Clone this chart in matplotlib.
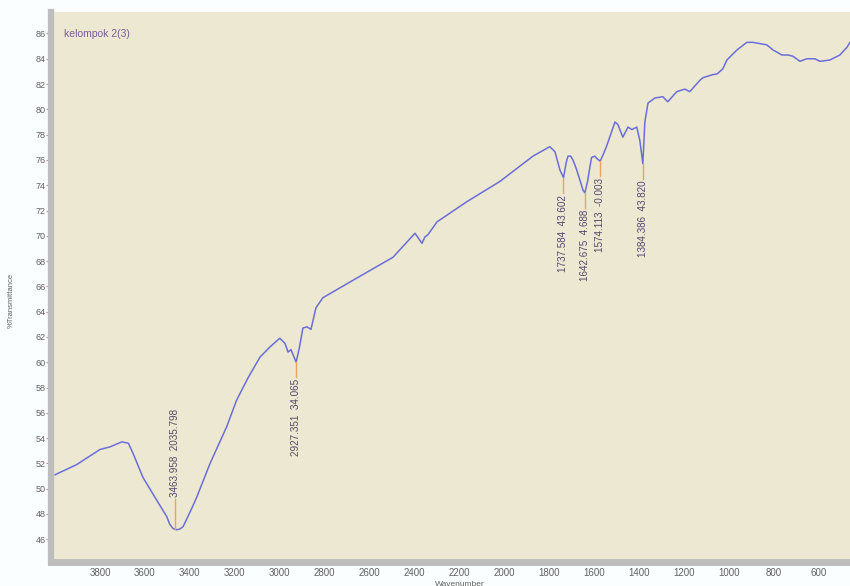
# Imports
import matplotlib
matplotlib.use("Agg")
import matplotlib.pyplot as plt
from matplotlib.ticker import MultipleLocator

# Spectrum data
wavenumber = [4000, 3904, 3800, 3756, 3703, 3674, 3653, 3609, 3548, 3503,
              3490, 3475, 3460, 3445, 3430, 3414, 3390, 3370, 3310, 3236,
              3192, 3140, 3088, 3044, 3000, 2977, 2963, 2950, 2927, 2912,
              2897, 2879, 2861, 2839, 2808, 2643, 2496, 2398, 2367, 2354,
              2340, 2300, 2167, 2020, 1873, 1798, 1775, 1753, 1737, 1725,
              1717, 1705, 1695, 1680, 1664, 1650, 1642, 1630, 1620, 1612,
              1597, 1588, 1574, 1561, 1545, 1508, 1495, 1473, 1450, 1433,
              1411, 1397, 1384, 1375, 1361, 1330, 1295, 1273, 1233, 1197,
              1175, 1130, 1117, 1072, 1054, 1028, 1010, 965, 921, 894,
              832, 805, 765, 738, 716, 685, 654, 618, 596, 552,
              507, 476, 462]
transmittance = [51.1, 51.9, 53.1, 53.3, 53.7, 53.6, 52.8, 50.9, 49.1, 47.8,
                 47.2, 46.85, 46.75, 46.8, 47.0, 47.6, 48.5, 49.3, 52.0, 54.9,
                 57.0, 58.8, 60.4, 61.2, 61.9, 61.5, 60.8, 61.0, 60.0, 61.2,
                 62.7, 62.8, 62.6, 64.3, 65.1, 66.8, 68.3, 70.2, 69.4, 69.9,
                 70.1, 71.1, 72.7, 74.3, 76.3, 77.05, 76.65, 75.2, 74.6, 75.8,
                 76.3, 76.3, 76.0, 75.3, 74.4, 73.6, 73.4, 74.3, 75.4, 76.2,
                 76.3, 76.1, 75.9, 76.4, 77.1, 79.0, 78.8, 77.8, 78.6, 78.4,
                 78.6, 77.5, 75.7, 79.0, 80.5, 80.9, 81.0, 80.6, 81.4, 81.6,
                 81.4, 82.3, 82.5, 82.75, 82.8, 83.2, 83.9, 84.7, 85.3, 85.3,
                 85.1, 84.7, 84.3, 84.3, 84.2, 83.8, 84.0, 84.0, 83.8, 83.9,
                 84.3, 84.9, 85.3]

# Peak picks
peak_wn = [3463.958, 2927.351, 1737.584, 1642.675, 1574.113, 1384.386]
peak_t = [46.8, 60.0, 74.6, 73.4, 75.9, 75.7]
peak_labels = ["3463.958  2035.798", "2927.351  34.065", "1737.584  43.602",
               "1642.675  4.688", "1574.113  -0.003", "1384.386  43.820"]
label_above = [True, False, False, False, False, False]

y_ticks = list(range(46, 88, 2))
x_ticks = list(range(3800, 500, -200))

# Colours
bg_color = "#EDE8D1"
line_color = "#6A6ED8"
strip_color = "#BDBDBD"
tick_color = "#D38A8A"
text_color = "#606060"
peak_line_color = "#F0A25A"
peak_text_color = "#54476A"

plt.rcParams['font.family'] = ['Liberation Sans', 'DejaVu Sans']

fig = plt.figure(figsize=(8.5, 5.86), dpi=100, facecolor="#FBFEFE")
ax = fig.add_axes([51 / 850, (586 - 562) / 586, 799 / 850, 550 / 586])
ax.set_facecolor(bg_color)

ax.plot(wavenumber, transmittance, color=line_color, linewidth=1.1)

# Peak markers and labels
for wn, t, lab, above in zip(peak_wn, peak_t, peak_labels, label_above):
    if above:
        end = t + 2.4
        ax.plot([wn, wn], [t, end], color=peak_line_color, linewidth=1.0)
        ax.text(wn, end + 0.15, lab, rotation=90, ha="center", va="bottom",
                fontsize=7.1, color=peak_text_color)
    else:
        end = t - 1.2
        ax.plot([wn, wn], [t, end], color=peak_line_color, linewidth=1.0)
        ax.text(wn, end - 0.15, lab, rotation=90, ha="center", va="top",
                fontsize=7.1, color=peak_text_color)

ax.set_xlim(4018, 462)
ax.set_ylim(44.2, 87.7)

ax.set_xticks(x_ticks)
ax.set_xticklabels([str(v) for v in x_ticks])
ax.xaxis.set_minor_locator(MultipleLocator(25))
ax.set_yticks(y_ticks)
ax.set_yticklabels([str(v) for v in y_ticks])

# Gray axis strips
for side in ["top", "right"]:
    ax.spines[side].set_visible(False)
ax.spines["left"].set_color(strip_color)
ax.spines["left"].set_linewidth(4.5)
ax.spines["bottom"].set_color(strip_color)
ax.spines["bottom"].set_linewidth(5.0)

ax.tick_params(axis="y", direction="out", length=3.5, width=0.8, color=tick_color,
               labelsize=6.5, labelcolor=text_color, pad=0.5)
ax.tick_params(axis="x", which="major", direction="inout", length=4, width=0.8,
               color=tick_color, labelsize=7, labelcolor=text_color, pad=2.5)
ax.tick_params(axis="x", which="minor", direction="inout", length=1.5, width=0.8,
               color=tick_color)

ax.text(13 / 799, (562 - 34) / 550, "kelompok 2(3)", transform=ax.transAxes,
        fontsize=7.5, color="#7A5C96", va="center", ha="left")

fig.text(11 / 850, 1 - 300 / 586, "%Transmittance", rotation=90,
         fontsize=5.5, color=text_color, ha="center", va="center")
fig.text(460 / 850, 1 - 584 / 586, "Wavenumber", fontsize=6,
         color=text_color, ha="center", va="center")

plt.savefig("out.png", dpi=100, facecolor=fig.get_facecolor())
